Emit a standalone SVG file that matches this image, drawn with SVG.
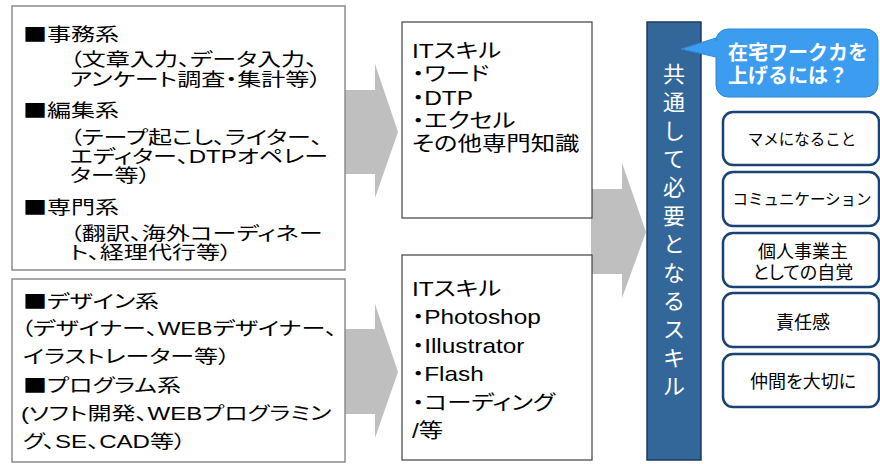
<svg xmlns="http://www.w3.org/2000/svg" width="880" height="464" viewBox="0 0 880 464">
<style>
text{font-family:"Liberation Sans","Noto Sans CJK JP",sans-serif;fill:#000;font-feature-settings:"palt";}
.sq{font-family:"Noto Sans CJK JP",sans-serif;}
.l{font-size:18.5px;}
.m{font-size:20px;}
.box1{fill:#fff;stroke:#8c8c8c;stroke-width:1.5;}
.box2{fill:#fff;stroke:#404040;stroke-width:1.2;}
.arr{fill:#bfbfbf;}
.rb{fill:#fff;stroke:#1a4272;stroke-width:2.5;}
.rt{font-size:15.5px;text-anchor:middle;font-feature-settings:normal;}
.rt2{font-size:18px;text-anchor:middle;}
.col{font-size:22px;fill:#fff;text-anchor:middle;font-feature-settings:normal;}
.co{font-size:20px;font-weight:bold;fill:#fff;font-feature-settings:normal;}
</style>
<rect x="0" y="0" width="880" height="464" fill="#fff"/>
<g id="connectors">
<polygon class="arr" points="343,90 375,90 375,64 398,132 375,198 375,174 343,174"/>
<polygon class="arr" points="343,329 375,329 375,304 398,372 375,438 375,414 343,414"/>
<polygon class="arr" points="591,189 622,189 622,163 646,232 622,298 622,274 591,274"/>
</g>
<g id="jobs-office">
<rect class="box1" x="12" y="6" width="333" height="264"/>
<g class="l" transform="matrix(1.3,0,0,1,-6.9,0)">
<text x="23" y="41"><tspan class="sq">■</tspan>事務系</text>
<text x="59" y="66">（文章入力、データ入力、</text>
<text x="59" y="86">アンケート調査・集計等）</text>
<text x="23" y="117"><tspan class="sq">■</tspan>編集系</text>
<text x="59" y="144">（テープ起こし、ライター、</text>
<text x="59" y="163">エディター、DTPオペレー</text>
<text x="59" y="182">ター等）</text>
<text x="23" y="214"><tspan class="sq">■</tspan>専門系</text>
<text x="59" y="240">（翻訳、海外コーディネー</text>
<text x="59" y="259">ト、経理代行等）</text>
</g>
</g>
<g id="jobs-creative">
<rect class="box1" x="12" y="279" width="333" height="183"/>
<g class="l" transform="matrix(1.3,0,0,1,-6.9,0)">
<text x="23" y="308"><tspan class="sq">■</tspan>デザイン系</text>
<text x="21.5" y="335">（デザイナー、WEBデザイナー、</text>
<text x="23" y="363">イラストレーター等）</text>
<text x="23" y="392"><tspan class="sq">■</tspan>プログラム系</text>
<text x="21.5" y="420">(ソフト開発、WEBプログラミン</text>
<text x="23" y="448">グ、SE、CAD等）</text>
</g>
</g>
<g id="skills-office">
<rect class="box2" x="402" y="22" width="190" height="196"/>
<g class="m" transform="matrix(1.22,0,0,1,-90.64,0)">
<text x="412" y="58">ITスキル</text>
<text x="412" y="81.3">・ワード</text>
<text x="412" y="104.6">・DTP</text>
<text x="412" y="128">・エクセル</text>
<text x="412" y="151.3">その他専門知識</text>
</g>
</g>
<g id="skills-creative">
<rect class="box2" x="402" y="255" width="190" height="205"/>
<g class="m" transform="matrix(1.22,0,0,1,-90.64,0)">
<text x="412" y="296">ITスキル</text>
<text x="412" y="324.5">・Photoshop</text>
<text x="412" y="353">・Illustrator</text>
<text x="412" y="381.5">・Flash</text>
<text x="412" y="410">・コーディング</text>
<text x="412" y="438.5">/等</text>
</g>
</g>
<g id="common-skills">
<rect x="647" y="22" width="54" height="438" fill="#336699" stroke="#1f3a5a" stroke-width="1.5"/>
<text class="col"><tspan x="674" y="82">共</tspan><tspan x="674" dy="28.36">通</tspan><tspan x="674" dy="28.36">し</tspan><tspan x="674" dy="28.36">て</tspan><tspan x="674" dy="28.36">必</tspan><tspan x="674" dy="28.36">要</tspan><tspan x="674" dy="28.36">と</tspan><tspan x="674" dy="28.36">な</tspan><tspan x="674" dy="28.36">る</tspan><tspan x="674" dy="28.36">ス</tspan><tspan x="674" dy="28.36">キ</tspan><tspan x="674" dy="28.36">ル</tspan></text>
</g>
<g id="callout">
<path d="M728,29 H866 A12,12 0 0 1 878,41 V85 A12,12 0 0 1 866,97 H728 A12,12 0 0 1 716,85 V57 L681,49 L716,38 V41 A12,12 0 0 1 728,29 Z" fill="#3c9cf0" stroke="#2f86d6" stroke-width="1"/>
<text class="co" x="728" y="60">在宅ワークカを</text>
<text class="co" x="728" y="83">上げるには？</text>
</g>
<g id="tip-1">
<rect class="rb" x="723" y="112" width="156" height="53" rx="10"/>
<text class="rt" x="802" y="145">マメになること</text>
</g>
<g id="tip-2">
<rect class="rb" x="723" y="172" width="156" height="54" rx="10"/>
<text class="rt" x="802" y="205">コミュニケーション</text>
</g>
<g id="tip-3">
<rect class="rb" x="723" y="233" width="156" height="54" rx="10"/>
<text class="rt2" x="803" y="258">個人事業主</text>
<text class="rt2" x="803" y="279">としての自覚</text>
</g>
<g id="tip-4">
<rect class="rb" x="723" y="293" width="156" height="54" rx="10"/>
<text class="rt2" x="803" y="329">責任感</text>
</g>
<g id="tip-5">
<rect class="rb" x="723" y="354" width="156" height="53" rx="10"/>
<text class="rt2" x="803" y="388">仲間を大切に</text>
</g>
</svg>
